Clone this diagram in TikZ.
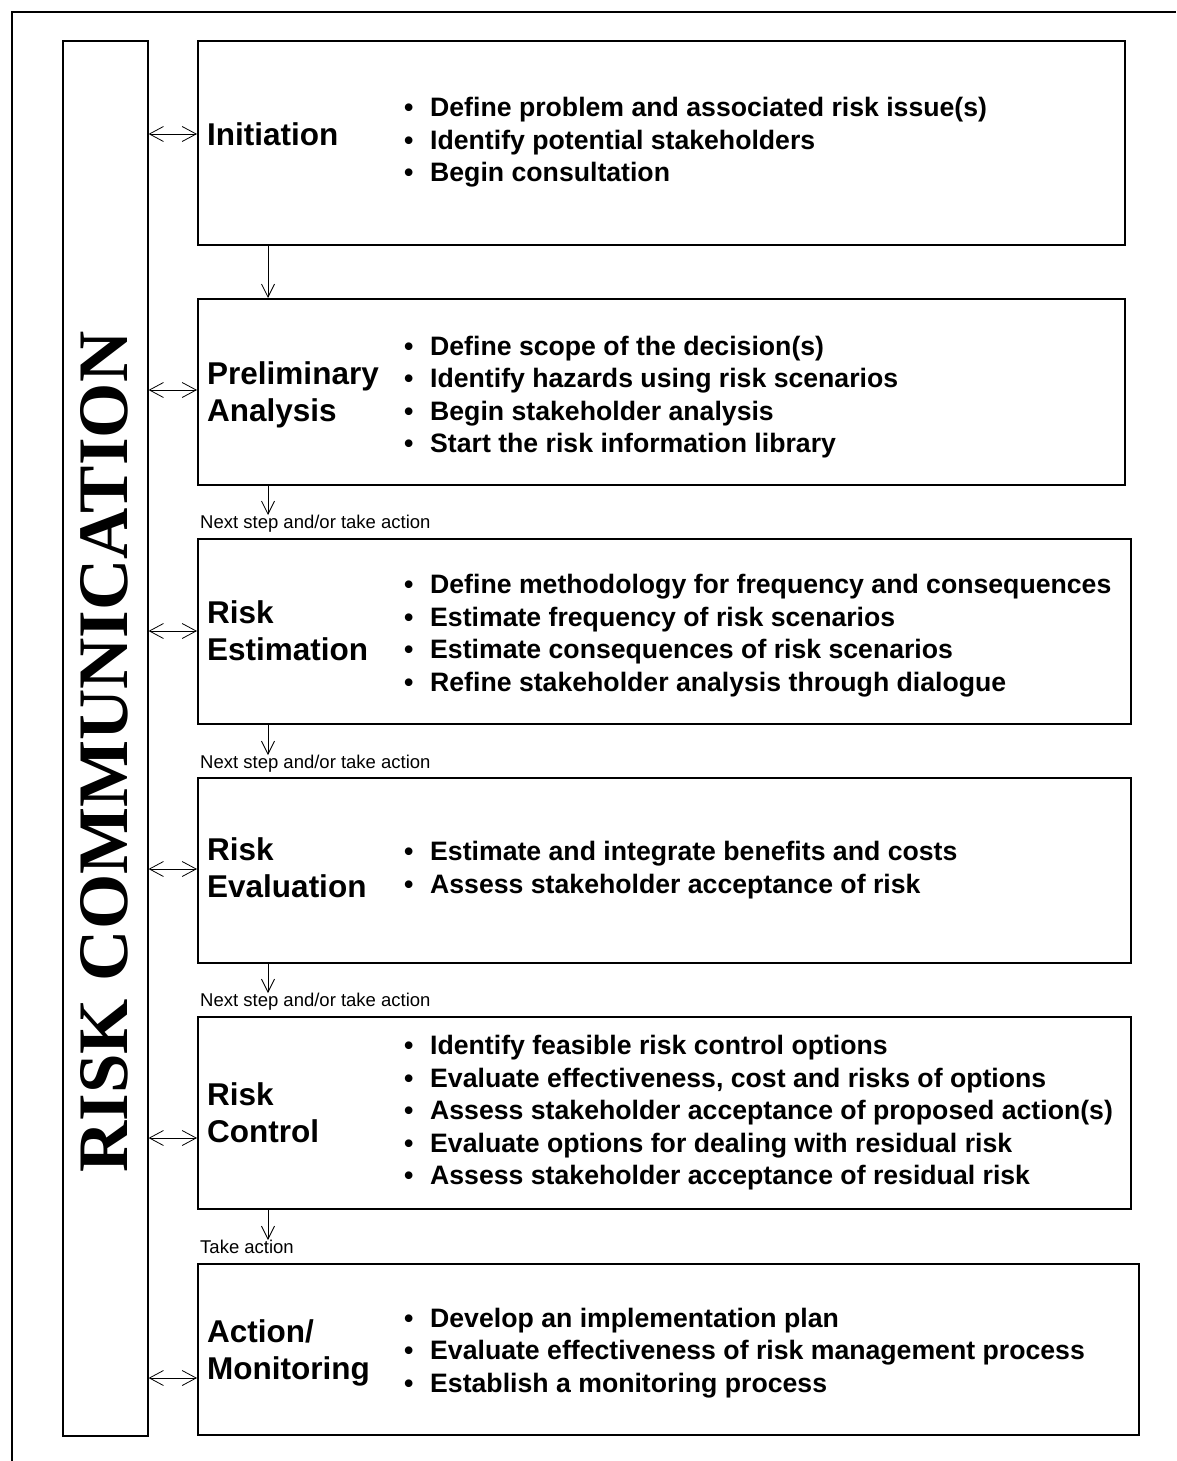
\documentclass[tikz,border=0pt]{standalone}
\usepackage{fontspec}
\setmainfont{Liberation Sans}
\newfontfamily\serifbold{Liberation Serif}
\usetikzlibrary{arrows.meta}
\newcommand{\itm}[1]{\hspace*{4pt}\makebox[26pt][l]{\textbullet}#1}
\begin{document}
\begin{tikzpicture}[x=1pt,y=-1pt,
  box/.style={draw,line width=1.6pt,inner sep=0pt,anchor=north west},
  head/.style={anchor=west,align=left,inner sep=0pt,font=\fontsize{31.5}{37}\selectfont\bfseries},
  items/.style={anchor=west,align=left,inner sep=0pt,font=\fontsize{26.65}{32.5}\selectfont\bfseries},
  note/.style={anchor=north west,inner sep=0pt,font=\fontsize{18.5}{22}\selectfont},
  dbl/.style={{Straight Barb[length=14pt,width=15pt]}-{Straight Barb[length=14pt,width=15pt]},line width=0.8pt},
  dn/.style={-{Straight Barb[length=13pt,width=13pt]},line width=0.8pt}]
\useasboundingbox (0,0) rectangle (1176,1461);
% outer frame
\draw[line width=1.6pt] (12,1461) -- (12,12) -- (1176,12);
% risk communication column
\node[box,minimum width=85pt,minimum height=1395pt] (comm) at (62,40) {};
\node[rotate=90,inner sep=0pt,font=\serifbold\bfseries\fontsize{71}{71}\selectfont] (commtxt) at (104,752) {RISK COMMUNICATION};
% steps
\node[box,minimum width=927pt,minimum height=204pt] (init) at (197,40) {};
\node[box,minimum width=927pt,minimum height=186pt] (prelim) at (197,298) {};
\node[box,minimum width=933pt,minimum height=185pt] (estim) at (197,538) {};
\node[box,minimum width=933pt,minimum height=185pt] (evalu) at (197,777) {};
\node[box,minimum width=933pt,minimum height=192pt] (control) at (197,1016) {};
\node[box,minimum width=941pt,minimum height=171pt] (action) at (197,1263) {};
% headings
\node[head] (h1) at (207,134) {Initiation};
\node[head] (h2) at (207,394.5) {Preliminary\\Analysis};
\node[head] (h3) at (207,630.5) {Risk\\Estimation};
\node[head] (h4) at (207,867.5) {Risk\\Evaluation};
\node[head] (h5) at (207,1112.5) {Risk\\Control};
\node[head] (h6) at (207,1353) {Action/\\Monitoring};
% bullet lists
\node[items] (l1) at (400,142.5) {\itm{Define problem and associated risk issue(s)}\\
  \itm{Identify potential stakeholders}\\
  \itm{Begin consultation}};
\node[items] (l2) at (400,397) {\itm{Define scope of the decision(s)}\\
  \itm{Identify hazards using risk scenarios}\\
  \itm{Begin stakeholder analysis}\\
  \itm{Start the risk information library}};
\node[items] (l3) at (400,635.5) {\itm{Define methodology for frequency and consequences}\\
  \itm{Estimate frequency of risk scenarios}\\
  \itm{Estimate consequences of risk scenarios}\\
  \itm{Refine stakeholder analysis through dialogue}};
\node[items] (l4) at (400,870) {\itm{Estimate and integrate benefits and costs}\\
  \itm{Assess stakeholder acceptance of risk}};
\node[items] (l5) at (400,1113) {\itm{Identify feasible risk control options}\\
  \itm{Evaluate effectiveness, cost and risks of options}\\
  \itm{Assess stakeholder acceptance of proposed action(s)}\\
  \itm{Evaluate options for dealing with residual risk}\\
  \itm{Assess stakeholder acceptance of residual risk}};
\node[items] (l6) at (400,1353) {\itm{Develop an implementation plan}\\
  \itm{Evaluate effectiveness of risk management process}\\
  \itm{Establish a monitoring process}};
% small labels
\node[note] (n1) at (200,515) {Next step and/or take action};
\node[note] (n2) at (200,755) {Next step and/or take action};
\node[note] (n3) at (200,993) {Next step and/or take action};
\node[note] (n4) at (200,1240) {Take action};
% arrows down
\draw[dn] (init.south -| 268,0) -- (prelim.north -| 268,0);
\draw[dn] (prelim.south -| 268,0) -- (n1.north -| 268,0);
\draw[dn] (estim.south -| 268,0) -- (n2.north -| 268,0);
\draw[dn] (evalu.south -| 268,0) -- (n3.north -| 268,0);
\draw[dn] (control.south -| 268,0) -- (n4.north -| 268,0);
% communication arrows
\foreach \n/\y in {init/134,prelim/390,estim/631,evalu/869,control/1138,action/1378}
  \draw[dbl] (comm.east |- 0,\y) -- (\n.west |- 0,\y);
\end{tikzpicture}
\end{document}
